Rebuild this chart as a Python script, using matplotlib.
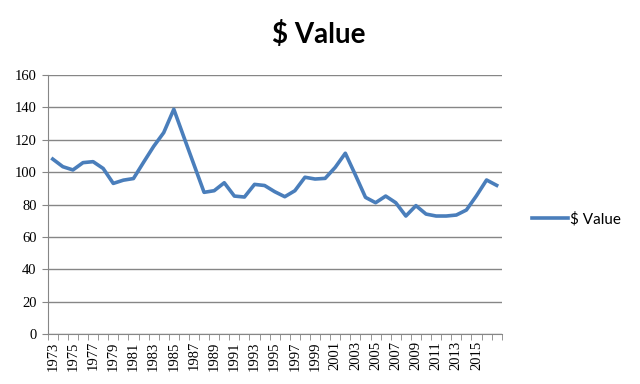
import numpy as np
import matplotlib.pyplot as plt

# datos (1973-2017)
years = list(range(1973, 2018))
values = [108.0, 103.3, 101.3, 105.8, 106.4, 102.2, 93.0, 95.0, 96.0, 106.0,
          115.8, 124.3, 138.7, 121.5, 104.5, 87.5, 88.5, 93.4, 85.2, 84.6,
          92.4, 91.7, 87.9, 84.8, 88.5, 96.8, 95.7, 96.1, 102.9, 111.6,
          98.2, 84.4, 81.1, 85.2, 81.1, 72.9, 79.3, 74.1, 72.9, 72.9,
          73.5, 76.6, 85.4, 95.1, 91.8]
tick_labels = [str(y) if (y - 1973) % 2 == 0 and y <= 2015 else '' for y in years]
yticks = [0, 20, 40, 60, 80, 100, 120, 140, 160]

line_color = '#4A7EBB'
grid_color = '#868686'

fig = plt.figure(figsize=(6.4, 3.84), dpi=100)
ax = fig.add_axes([47.7 / 640, 1 - 334.3 / 384, 454 / 640, 259.6 / 384])

x = np.arange(len(years))
ax.plot(x, values, color=line_color, linewidth=2.6, label='$ Value',
        solid_joinstyle='round')

ax.set_xlim(-0.5, len(years) - 0.5)
ax.set_ylim(0, 160)
ax.set_yticks(yticks)
ax.set_yticklabels([str(v) for v in yticks], family='Liberation Serif', fontsize=10.5)

ax.set_xticks(x)
ax.set_xticklabels(tick_labels, rotation=90, family='Liberation Serif', fontsize=10.5)
ax.set_xticks(np.arange(len(years) + 1) - 0.5, minor=True)
ax.tick_params(axis='x', which='major', length=0, pad=5)
ax.tick_params(axis='x', which='minor', length=4, color=grid_color, direction='out')
ax.tick_params(axis='y', length=4, color=grid_color, direction='out', pad=4)

ax.grid(True, axis='y', color=grid_color, linewidth=1)
ax.set_axisbelow(True)
for s in ['top', 'right']:
    ax.spines[s].set_visible(False)
for s in ['left', 'bottom']:
    ax.spines[s].set_color(grid_color)

fig.text(319 / 640, 1 - 34 / 384, '$ Value', ha='center', va='center',
         fontsize=20, fontweight='bold', family='Lato')

fig.legend(loc='center left', bbox_to_anchor=(518 / 640, 1 - 219 / 384),
           frameon=False, handlelength=2.4, handletextpad=0.1,
           prop={'family': 'Lato', 'size': 11})

plt.savefig('out.png', dpi=100)
